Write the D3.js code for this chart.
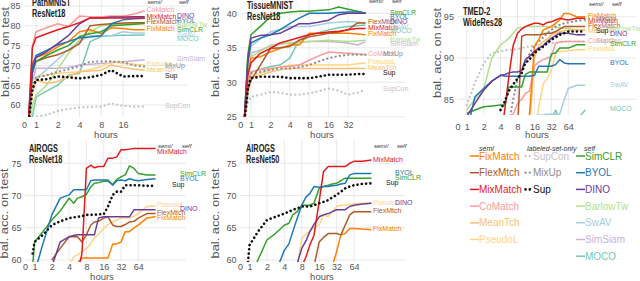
<!DOCTYPE html>
<html><head><meta charset="utf-8">
<script src="https://cdn.jsdelivr.net/npm/d3@7"></script>
<style>html,body{margin:0;padding:0;background:#fff;}svg{display:block;font-family:"Liberation Sans",Arial,Helvetica,sans-serif;}</style>
</head><body><svg id="c" width="640" height="281"></svg>
<script>
const n = null;
// ---------- series meta ----------
const SEMI = ["FixMatch","FlexMatch","MixMatch","CoMatch","MeanTch","PseudoL"];
const LABELED = ["SupCon","MixUp","Sup"];
const SELF = ["SimCLR","BYOL","DINO","BarlowTw","SwAV","SimSiam","MOCO"];
const COLORS = {FixMatch:"#ff7f00",FlexMatch:"#b15928",MixMatch:"#e31a1c",CoMatch:"#fb9a99",MeanTch:"#fdbf6f",PseudoL:"#fed584",
  SupCon:"#c4c4c4",MixUp:"#8e8e8e",Sup:"#111111",SimCLR:"#33a02c",BYOL:"#1f78b4",DINO:"#6a3d9a",BarlowTw:"#b2df8a",SwAV:"#a6cee3",SimSiam:"#cab2d6",MOCO:"#74c9b0"};
const LEGEND_NAMES = {FlexMatch:"FlexMtch"};
const DRAW_ORDER = ["SupCon","MOCO","SimSiam","SwAV","BarlowTw","PseudoL","MeanTch","CoMatch","MixUp","FixMatch","FlexMatch","SimCLR","BYOL","DINO","MixMatch","Sup"];

// ---------- x (hours) grids ----------
const HOURS_P1 = [0.35,0.7,1,1.4,2,2.8,4,5.6,8,11,16,23,32];
const HOURS_P2 = [0.35,0.7,1,1.4,2,2.8,4,5.6,8,11,16,23,32,45,60];
const HOURS_LONG = [0.8,1,1.4,2,2.8,4,4.8,5.6,6.7,8,9.5,11,13,16,19,23,27,32,38,45,54,64,90,128];

// ---------- tick labels ----------
const XTICKS_P1 = [0,1,2,4,8,16];
const XTICKS_P2 = [0,1,2,4,8,16,32];
const XTICKS_LONG = [0,1,2,4,8,16,32,64];
const YTICKS_P1 = [60,65,70,75,80,85];
const YTICKS_P2 = [25,30,35,40];
const YTICKS_P3 = [85,90,95];
const YTICKS_AIROGS = [60,65,70,75];

// ---------- values: PathMNIST / ResNet18 ----------
const PATHMNIST = {
 FixMatch:[55,70.5,72,73,74.7,76,78.5,79,78,79.5,79.3,79,79],
 FlexMatch:[55,69.5,71,72,72.7,73.8,75.5,80,80.3,80.5,80.7,80.8,80.8],
 MixMatch:[55,74.5,77,78,79,79.8,80.8,82,82,82,82,82,82],
 CoMatch:[55,75,78.5,79.5,80.5,79.8,82.5,82.3,82.3,82.5,82.5,83,83.8],
 MeanTch:[55,63,66.3,65.5,65.9,67.2,68.4,68.6,68.8,70.1,69.5,69,68.8],
 PseudoL:[55,64,67.2,67.5,68,68.2,68.4,69,69.7,71,70.5,70.3,70.1],
 SupCon:[50,55,57,57.5,58.5,59,59.4,59.5,59.6,60.4,59.8,59.6,59.6],
 MixUp:[55,64,67,67.5,68.4,69,69.8,70.9,71,71,70.8,70,69.7],
 Sup:[55,64,66.3,66.5,67.2,67,66.7,67,67.6,68.8,67.2,67.3,67.3],
 SimCLR:[55,68,71,72.5,73.9,75,77.3,78,78.5,80,80.2,80.4,80.6],
 BYOL:[55,70,72.5,73.8,75.2,76,77,77.2,77.5,80.5,81.5,81.8,81.9],
 DINO:[55,68.5,72,73.5,75.5,77.5,80.5,82,82,82.2,82.2,82.3,82.3],
 BarlowTw:[52,60,62.5,65,69,73,76.5,78.5,80,80.3,80.5,80.6,80.7],
 SwAV:[55,63,66.5,69,71.5,74,76,77.5,77.5,77.5,78.5,78.2,78.2],
 SimSiam:[55,66,69.3,69.3,69.3,69.5,70.1,70.3,70.5,70.7,70.9,71.2,71.4],
 MOCO:[50,57,62,63.5,65,67.5,68,76,77.3,77.5,77.6,77.6,77.7]
};
// ---------- values: TissueMNIST / ResNet18 ----------
const TISSUEMNIST = {
 FixMatch:[24,31,33.5,33.7,34.4,34.9,35.4,35.4,37.1,37.1,37.1,37.1,37.1,37,36.9],
 FlexMatch:[24,29,30.3,32.5,34.9,35,35.2,36.1,36.6,36.8,37.1,37.3,37.6,38.6,38.6],
 MixMatch:[24,31,32.8,34.2,34.9,35.7,36.1,36.5,36.9,37.1,37.3,37.4,37.6,37.8,37.8],
 CoMatch:[24,29.5,31.5,31.8,32,32.2,32.3,32.5,33.2,33.8,34.4,34.3,34.2,34.1,34],
 MeanTch:[24,29,30.6,31,31.5,31.8,32,32,32,32,32,32,32,32,32],
 PseudoL:[24,29,30.8,31.3,31.8,32.2,32.5,32.5,32.5,32.5,32.5,32.5,32.5,32.7,32.8],
 SupCon:[24,27,27.9,28.2,28.6,28.5,28.2,28.2,28.4,28.7,29.1,28.8,28.2,28.5,28.9],
 MixUp:[24,29.5,31.3,31.5,31.8,32,32,32.2,32.5,33,33.5,33.8,34,34,34],
 Sup:[24,29,30.6,30.8,30.8,30.8,30.6,30.6,30.6,30.8,31.1,31.1,31.1,31.2,31.2],
 SimCLR:[24,34,36.9,38.1,39.5,40,40.2,40.3,40.3,40.4,40.5,40.9,40.6,40.3,40],
 BYOL:[24,33,35.7,36.4,36.9,37.6,38.5,39.3,40,40,40,40.1,40.2,40.2,40],
 DINO:[24,33,36.4,36.8,36.9,37.1,37.8,38.5,38.5,38.7,39,39.8,40,40,40],
 BarlowTw:[24,32,33.7,34.5,35.4,35.6,35.7,35.8,35.9,36,36.1,36,35.9,36,36.1],
 SwAV:[24,32,35.2,36.3,37.3,37.7,38.1,38.1,38.1,38.3,38.6,38.7,38.8,38.7,38.6],
 SimSiam:[24,32,34.2,34.7,35.2,35.5,35.7,35.8,35.9,35.9,35.9,35.8,35.7,35.4,35.9],
 MOCO:[24,28,31.5,31.9,32.3,32.5,33.5,36.1,36.9,37.2,37.6,37.9,38.1,38.2,38.3]
};
// ---------- values: TMED-2 / WideRes28 ----------
const TMED2 = {
 FixMatch:[n,n,n,n,n,n,n,n,n,n,n,80,83,91.4,92.2,93.4,93.6,93.8,94.2,94.6,95.4,95.4,95,95],
 FlexMatch:[n,n,n,n,n,n,n,n,n,81,92.6,92.8,92.8,92.8,92.8,92.9,93,93,93.2,93.5,93.8,93.8,93.8,93.8],
 MixMatch:[n,n,n,n,n,80,84,87.7,91.5,93,93.5,93.8,94,94.2,94.2,94,94.3,94.4,94.6,94.8,94.7,94.6,94.8,94.8],
 CoMatch:[n,n,n,n,n,n,82,83,83.2,84.5,85,85.7,86,89,89.5,89.8,90,90.2,91.8,91.9,92,92,92,92],
 MeanTch:[n,n,n,n,n,n,n,n,n,n,n,n,81,90,91.5,92,92.3,92.8,93,93.2,93.3,93.4,93.4,93.4],
 PseudoL:[n,n,n,n,n,n,n,n,n,n,n,n,n,81,84,86.9,87.5,88.5,90.6,90.8,90.8,90.9,91,91],
 SupCon:[n,84.3,87,89.3,90.6,90.8,90.9,91,91,91.1,91.2,91.3,91.4,91.5,91.6,91.7,91.8,91.8,91.9,91.9,92,92,92,92],
 MixUp:[n,n,n,n,n,n,n,82,85,87.5,88.5,89.5,90.5,91.5,92,92.5,93,93.4,93.8,94,94.2,94.3,94.5,94.6],
 Sup:[n,n,n,n,n,83.7,84.8,86,86.8,87.5,88.2,89.4,89.8,90.6,91,91.4,91.8,92.2,92.5,92.8,93,93.2,93.2,93.2],
 SimCLR:[n,83.3,83.7,84.1,84.2,84.3,84.3,86.5,86.5,86.5,86.5,88,88.3,88.3,88.3,88.3,88.3,90.5,90.6,91.2,91.2,91.2,91.6,91.6],
 BYOL:[n,81,85.3,86.3,87.2,87.9,87.8,87.8,87.8,87.8,87.8,87.8,87.8,87.9,89,89,89,89,89.2,89.8,89.4,89.3,89.3,89.3],
 DINO:[n,82.9,84.5,86.1,87.2,87.9,88,88.2,88.3,88.3,88.5,89.8,90.2,90.8,91.2,91.5,92,92.4,92.7,93,93,93,92.8,92.8],
 BarlowTw:[n,83.7,85,86.2,90,91.6,92,92.4,93,93.6,93.7,93.8,93.8,93.8,93.8,93.8,93.8,93.8,93.7,93.7,93.6,93.6,93.4,93.4],
 SwAV:[n,n,n,n,n,n,n,n,n,n,n,n,82,83,83.1,83.1,83.2,83.2,83.2,83.2,84.9,86.3,86.7,86.7],
 MOCO:[n,n,n,n,n,n,n,n,n,n,n,n,n,n,n,n,n,82.5,83.7,82.5,82.5,82.5,82.5,83.7]
};
// ---------- values: AIROGS / ResNet18 ----------
const AIROGS18 = {
 SimCLR:[59,62.8,64.4,66.2,67.6,69.6,68.8,69.6,69.8,70.2,71.3,71.9,72,72.2,72.2,71.7,72.5,72.9,73.2,74.6,74.2,73.4,73.2,73.2],
 BYOL:[n,58,62.5,67,69.6,70.1,70.9,70.9,70.9,70.9,72.3,72.4,72.4,72.4,72.4,71.6,72.3,72.4,72.3,72.6,72.4,72.3,72.5,72.6],
 Sup:[61,62.8,63.9,65.4,66,66.5,66.6,66.7,66.8,67,67,67,67.1,67.1,68.3,70.1,70.6,70.6,71.6,71.6,71.6,71.6,71.5,71.5],
 MixMatch:[n,n,n,n,n,n,n,58,61,74.2,74.7,74.3,74.5,74.5,75.8,75.8,76,77.1,77.1,77.2,77.3,77.3,77.3,77.3],
 PseudoL:[n,n,n,n,n,59,60.5,60.8,61.3,61.8,62.5,63.4,64,64.9,65.5,65.9,66.2,66.5,66.5,66.5,66.8,67.2,68.3,68.4],
 DINO:[n,n,n,59,62.8,63.6,63.8,63.9,63.9,63.9,63.9,63.9,66.5,66.7,66.7,66.7,66.7,66.7,66.7,66.7,67.8,67.8,67.8,67.8],
 FlexMatch:[n,n,n,60,61.8,63.6,63.6,63.6,62.8,63.9,65.4,65.9,66,66.5,66.7,65.4,65.2,65.2,65.5,65.9,66,66.5,67.2,67.2],
 FixMatch:[n,n,n,n,n,n,n,59.5,60.3,60.3,60.3,60.3,60.3,60.3,60.3,62.5,62.5,62.8,64.4,64.4,65,65.4,66.5,66.7]
};
// ---------- values: AIROGS / ResNet50 ----------
const AIROGS50 = {
 Sup:[59,62.3,64.4,66.2,66.7,67.2,67.5,67.8,68,68.3,68.3,68.3,68.5,68.8,69,69.3,69.7,70.1,70.6,71.1,71.4,71.6,71.8,71.9],
 SimCLR:[n,57,60,63.1,64.1,65.4,65.7,67,67.5,68.5,68.5,68.5,68.8,71.1,71.4,71.6,71.8,71.9,72.3,72.7,72.7,72.7,72.7,72.7],
 BYOL:[n,n,n,n,58,61.5,62.5,64.4,66.5,68.5,69.8,70.3,71.4,71.3,71.4,71.4,71.5,71.6,71.8,71.9,73.2,73.4,73.4,73.4],
 MixMatch:[n,n,n,n,n,n,n,n,n,59,60.5,62.3,63.8,69.1,73.7,74.5,74.5,74.5,74.5,74.5,75,75.3,75.3,75.5],
 PseudoL:[n,n,n,n,n,n,n,n,59,63.4,64,64.4,65,65.4,67,66.7,67.5,68.3,68.5,68.5,68.6,68.7,68.8,68.8],
 DINO:[n,n,n,n,n,n,n,n,59.5,61.8,63,64.4,65.5,66.7,67,67.2,67.5,67.8,67.8,67.8,68.3,68.5,68.7,68.8],
 FlexMatch:[n,n,n,n,n,n,n,n,n,n,n,n,59,62.8,63.5,64.1,64.1,64.1,63.9,65.4,67,67.5,67.5,67.5],
 FixMatch:[n,n,n,n,n,n,n,n,n,n,n,n,n,n,n,n,59,61.3,63.9,64.1,64.9,64.9,64.8,64.7]
};

const PANELS = [
 {title:["PathMNIST","ResNet18"], hours:HOURS_P1, data:PATHMNIST, xTicks:XTICKS_P1, yTicks:YTICKS_P1, flex:"FlexMatch"},
 {title:["TissueMNIST","ResNet18"], hours:HOURS_P2, data:TISSUEMNIST, xTicks:XTICKS_P2, yTicks:YTICKS_P2, flex:"FlexMtch"},
 {title:["TMED-2","WideRes28"], hours:HOURS_LONG, data:TMED2, xTicks:XTICKS_LONG, yTicks:YTICKS_P3, flex:"FlexMatch"},
 {title:["AIROGS","ResNet18"], hours:HOURS_LONG, data:AIROGS18, xTicks:XTICKS_LONG, yTicks:YTICKS_AIROGS, flex:"FlexMtch"},
 {title:["AIROGS","ResNet50"], hours:HOURS_LONG, data:AIROGS50, xTicks:XTICKS_LONG, yTicks:YTICKS_AIROGS, flex:"FlexMtch"}
];

// ---------- layout (pixels) ----------
const LAYOUT = [
 {x1:36, k:4, xk:123, yv:[60,85], yp:[105,6], top:0, bottom:117, right:188, axisY:122, hoursX:106, hoursY:137.5, ylabX:8.5, ylabY:52, tX:32, tY:6, semiX:146.5, labX:165, selfX:177, headY:4},
 {x1:251, k:5, xk:348, yv:[25,40], yp:[116.8,13.3], top:0, bottom:117, right:405, axisY:122, hoursX:322, hoursY:137.5, ylabX:218.5, ylabY:52, tX:247, tY:8.5, semiX:368, labX:383, selfX:390, headY:2.5},
 {x1:466.7, k:6, xk:568.3, yv:[85,95], yp:[99.3,16.7], top:0, bottom:115, right:636, axisY:123.5, hoursX:537, hoursY:138, ylabX:441, ylabY:53, tX:463, tY:15, semiX:588, labX:596, selfX:610, headY:6},
 {x1:34.5, k:6, xk:138.3, yv:[60,75], yp:[260,163.3], top:140, bottom:262, right:186, axisY:264, hoursX:102, hoursY:280, ylabX:7.5, ylabY:213.5, tX:29, tY:151.5, semiX:157, labX:172, selfX:180, headY:147.5},
 {x1:249.5, k:6, xk:354, yv:[60,75], yp:[260,163.3], top:140, bottom:262, right:405, axisY:264, hoursX:322, hoursY:280, ylabX:218.5, ylabY:213.5, tX:246, tY:151.5, semiX:373, labX:386, selfX:395, headY:148}
];

const tf = h => h < 1 ? (h - 1) * 0.55 : Math.log2(h);
const svg = d3.select("#c");
const groupOf = s => SEMI.includes(s) ? "semi" : LABELED.includes(s) ? "lab" : "self";

function styleLine(sel, s) {
  sel.attr("fill","none").attr("stroke", COLORS[s]);
  if (LABELED.includes(s)) {
    sel.attr("stroke-width", s === "Sup" ? 2.6 : 2.2).attr("stroke-dasharray","0.1 4.2").attr("stroke-linecap","round");
  } else {
    sel.attr("stroke-width", 1.5).attr("stroke-linejoin","round");
  }
}

PANELS.forEach((P, pi) => {
  const L = LAYOUT[pi];
  const xs = d3.scaleLinear().domain([0, L.k]).range([L.x1, L.xk]);
  const X = h => xs(tf(h));
  const Y = d3.scaleLinear().domain(L.yv).range(L.yp);
  const x0 = X(0);
  const g = svg.append("g");

  // grid
  g.append("g").selectAll("line").data(P.yTicks).join("line")
    .attr("x1", x0).attr("x2", L.right).attr("y1", d => Y(d)).attr("y2", d => Y(d))
    .attr("stroke", "#e3e3e3").attr("stroke-width", 0.8);
  g.append("g").selectAll("line").data(P.xTicks.filter(d => d >= 1)).join("line")
    .attr("x1", d => X(d)).attr("x2", d => X(d)).attr("y1", L.top).attr("y2", L.bottom)
    .attr("stroke", "#e3e3e3").attr("stroke-width", 0.8);

  // axes (labels only)
  const xa = g.append("g").attr("transform", `translate(0,${L.axisY})`)
    .call(d3.axisBottom(xs).tickValues(P.xTicks.map(tf)).tickFormat((d, i) => P.xTicks[i]).tickSize(0).tickPadding(0));
  xa.select(".domain").remove();
  xa.selectAll("text").attr("font-size", 9).attr("fill", "#555").attr("font-family", null);
  const ya = g.append("g").attr("transform", `translate(${x0},0)`)
    .call(d3.axisLeft(Y).tickValues(P.yTicks).tickSize(0).tickPadding(3.5));
  ya.select(".domain").remove();
  ya.selectAll("text").attr("font-size", 9).attr("fill", "#555").attr("font-family", null);

  g.append("text").attr("x", L.hoursX).attr("y", L.hoursY).attr("text-anchor", "middle")
    .attr("font-size", 9.5).attr("fill", "#555").text("hours");
  g.append("text").attr("transform", `translate(${L.ylabX},${L.ylabY}) rotate(-90)`)
    .attr("text-anchor", "middle").attr("font-size", 11).attr("fill", "#555")
    .attr("textLength", 90).attr("lengthAdjust", "spacingAndGlyphs").text("bal. acc. on test");

  // clip
  const cid = "clip" + pi;
  svg.append("clipPath").attr("id", cid).append("rect")
    .attr("x", x0 - 2).attr("y", L.top).attr("width", L.right - x0 + 2).attr("height", L.bottom - L.top);

  // lines
  const line = d3.line().defined(d => d[1] != null).x(d => X(d[0])).y(d => Y(d[1]));
  const lg = g.append("g").attr("clip-path", `url(#${cid})`);
  const present = DRAW_ORDER.filter(s => P.data[s]);
  present.forEach(s => {
    const pts = P.hours.map((h, i) => [h, P.data[s][i]]);
    lg.append("path").datum(pts).attr("d", line).call(styleLine, s);
  });

  // title
  P.title.forEach((t, i) => {
    g.append("text").attr("transform", `translate(${L.tX},${L.tY + i * 11.3}) scale(0.7,1)`)
      .attr("font-size", 10.5).attr("font-weight", "bold").attr("fill", "#222").text(t);
  });

  // headers
  g.append("text").attr("x", L.semiX + 1).attr("y", L.headY).attr("font-size", 6).attr("font-style", "italic").attr("fill", "#333").text("semi/");
  g.append("text").attr("x", L.selfX + 2).attr("y", L.headY).attr("font-size", 6).attr("font-style", "italic").attr("fill", "#333").text("self");

  // end labels with simple dodge per column
  const cols = {semi: [], lab: [], self: []};
  present.forEach(s => {
    const vals = P.data[s];
    const last = vals[vals.length - 1];
    cols[groupOf(s)].push({s, y: Y(last) - 1});
  });
  const colX = {semi: L.semiX, lab: L.labX, self: L.selfX};
  Object.keys(cols).forEach(c => {
    const items = cols[c].sort((a, b) => a.y - b.y);
    for (let i = 0; i < items.length; i++) {
      const minY = i === 0 ? L.headY + 4 : items[i - 1].y + 4.6;
      if (items[i].y < minY) items[i].y = minY;
    }
    items.forEach(it => {
      g.append("text").attr("x", colX[c]).attr("y", it.y).attr("dy", "0.35em")
        .attr("font-size", 7).attr("fill", COLORS[it.s])
        .text(it.s === "FlexMatch" ? P.flex : it.s);
    });
  });
});

// ---------- legend ----------
const lg = svg.append("g");
const rowY = i => 156 + i * 16.7;
[["semi", 479], ["labeled-set-only", 527], ["self", 584]].forEach(([t, x]) => {
  lg.append("text").attr("x", x).attr("y", 150.5).attr("font-size", 7).attr("font-style", "italic").attr("fill", "#333").text(t);
});
SEMI.forEach((s, i) => {
  lg.append("line").attr("x1", 470).attr("x2", 479).attr("y1", rowY(i)).attr("y2", rowY(i)).attr("stroke", COLORS[s]).attr("stroke-width", 1.5);
  lg.append("text").attr("x", 479).attr("y", rowY(i)).attr("dy", "0.36em").attr("font-size", 10).attr("fill", COLORS[s]).text(LEGEND_NAMES[s] || s);
});
LABELED.forEach((s, i) => {
  lg.append("path").attr("d", `M525.5,${rowY(i)}H530.5`).call(styleLine, s);
  lg.append("text").attr("x", 533).attr("y", rowY(i)).attr("dy", "0.36em").attr("font-size", 10).attr("fill", COLORS[s]).text(s);
});
SELF.forEach((s, i) => {
  lg.append("line").attr("x1", 576).attr("x2", 585).attr("y1", rowY(i)).attr("y2", rowY(i)).attr("stroke", COLORS[s]).attr("stroke-width", 1.5);
  lg.append("text").attr("x", 585).attr("y", rowY(i)).attr("dy", "0.36em").attr("font-size", 10).attr("fill", COLORS[s]).text(s);
});
</script></body></html>
